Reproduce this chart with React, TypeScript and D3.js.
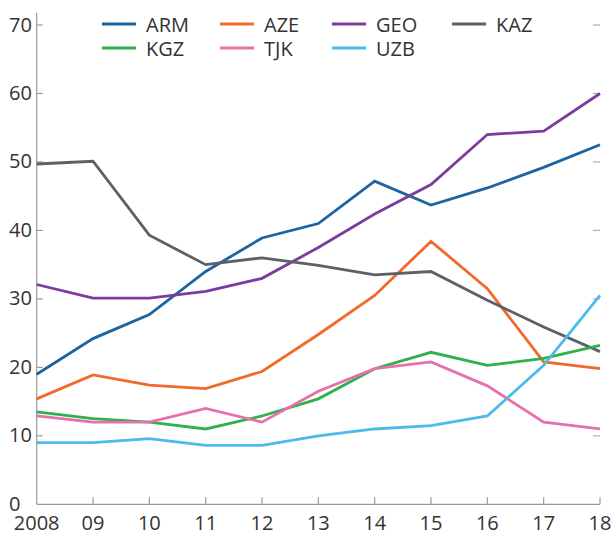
import React from "react";
import * as d3 from "d3";

const years = [2008, 2009, 2010, 2011, 2012, 2013, 2014, 2015, 2016, 2017, 2018];
const yearLabels = ["2008", "09", "10", "11", "12", "13", "14", "15", "16", "17", "18"];
const yTicks = [0, 10, 20, 30, 40, 50, 60, 70];

const ARM = [19.0, 24.2, 27.7, 34.0, 38.9, 41.0, 47.2, 43.7, 46.2, 49.2, 52.5];
const AZE = [15.4, 18.9, 17.4, 16.9, 19.4, 24.8, 30.5, 38.4, 31.5, 20.8, 19.8];
const GEO = [32.1, 30.1, 30.1, 31.1, 33.0, 37.5, 42.4, 46.7, 54.0, 54.5, 60.0];
const KAZ = [49.7, 50.1, 39.3, 35.0, 36.0, 34.9, 33.5, 34.0, 29.8, 25.9, 22.3];
const KGZ = [13.5, 12.5, 12.0, 11.0, 12.9, 15.4, 19.8, 22.2, 20.3, 21.3, 23.2];
const TJK = [12.9, 12.0, 12.0, 14.0, 12.0, 16.5, 19.8, 20.8, 17.3, 12.0, 11.0];
const UZB = [9.0, 9.0, 9.6, 8.6, 8.6, 10.0, 11.0, 11.5, 12.9, 20.3, 30.5];

const seriesNames = ["ARM", "AZE", "GEO", "KAZ", "KGZ", "TJK", "UZB"];
const seriesValues = [ARM, AZE, GEO, KAZ, KGZ, TJK, UZB];
const seriesColors = ["#1d64a0", "#f26a2b", "#7a3d9e", "#5c6166", "#2fb14c", "#e670ac", "#4db9ec"];

const W = 613;
const H = 533;
const FONT = "'Open Sans', 'Noto Sans', sans-serif";

export default function App() {
  const x = d3.scaleLinear().domain([2008, 2018]).range([36.7, 600]);
  const y = d3.scaleLinear().domain([0, 70]).range([504.3, 25]);
  const line = d3
    .line<number>()
    .x((_, i) => x(years[i]))
    .y((d) => y(d));

  const legendCols = [102, 220, 332, 452];
  const legendRows = [24, 48];

  return (
    <svg
      width={W}
      height={H}
      style={{ position: "absolute", left: 0, top: 0, display: "block", background: "#fff" }}
      fontFamily={FONT}
    >
      {/* axes */}
      <line x1={x(2008)} x2={x(2008)} y1={12.7} y2={y(0)} stroke="#9a9a9a" strokeWidth={1.2} />
      <line x1={x(2008)} x2={x(2018)} y1={y(0)} y2={y(0)} stroke="#9a9a9a" strokeWidth={1.2} />
      {yTicks
        .filter((t) => t > 0)
        .map((t) => (
          <g key={"yt" + t}>
            <line x1={x(2008)} x2={x(2008) + 6} y1={y(t)} y2={y(t)} stroke="#9a9a9a" strokeWidth={1.2} />
            <line x1={x(2018) - 7} x2={x(2018)} y1={y(t)} y2={y(t)} stroke="#b0b0b0" strokeWidth={1.2} />
          </g>
        ))}
      {yTicks.map((t) => (
        <text
          key={"yl" + t}
          x={9}
          y={y(t) - 1}
          dominantBaseline="central"
          fontSize={20}
          fill="#333"
        >
          {t}
        </text>
      ))}
      {years.map((yr, i) => (
        <g key={"xt" + yr}>
          {i > 0 && (
            <line x1={x(yr)} x2={x(yr)} y1={y(0)} y2={y(0) - 7} stroke="#9a9a9a" strokeWidth={1.2} />
          )}
          <text x={x(yr)} y={530} textAnchor="middle" fontSize={20} fill="#333">
            {yearLabels[i]}
          </text>
        </g>
      ))}

      {/* series */}
      {seriesValues.map((vals, k) => (
        <path
          key={seriesNames[k]}
          d={line(vals) || ""}
          fill="none"
          stroke={seriesColors[k]}
          strokeWidth={2.8}
          strokeLinejoin="miter"
        />
      ))}

      {/* legend */}
      {seriesNames.map((name, k) => {
        const col = k < 4 ? k : k - 4;
        const row = k < 4 ? 0 : 1;
        const lx = legendCols[col];
        const ly = legendRows[row];
        return (
          <g key={"lg" + name}>
            <line x1={lx} x2={lx + 34} y1={ly} y2={ly} stroke={seriesColors[k]} strokeWidth={3} />
            <text x={lx + 44} y={ly} dominantBaseline="central" fontSize={20} fill="#333">
              {name}
            </text>
          </g>
        );
      })}
    </svg>
  );
}
